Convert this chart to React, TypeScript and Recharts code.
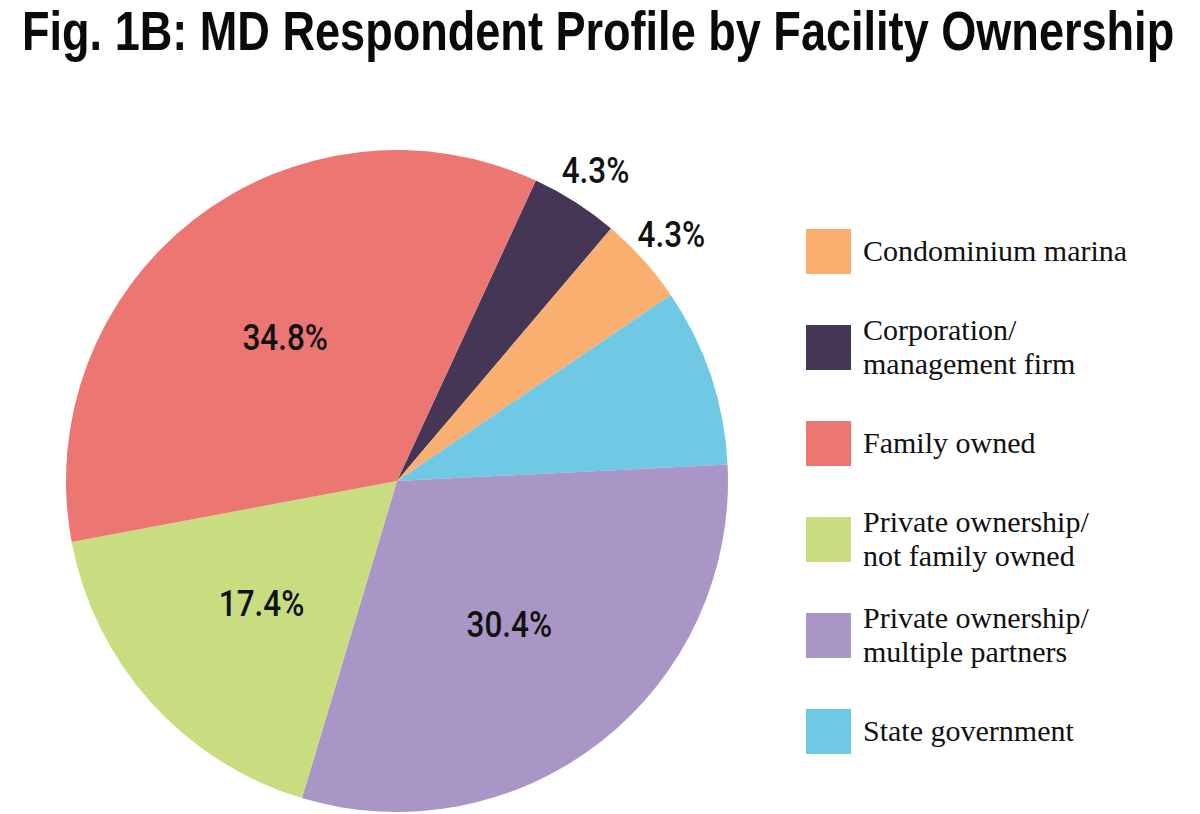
import { Cell, Pie, PieChart } from "recharts";

const title = "Fig. 1B: MD Respondent Profile by Facility Ownership";

// slice order as drawn, clockwise from the top
const sliceNames = [
  "Corporation/management firm",
  "Condominium marina",
  "State government",
  "Private ownership/multiple partners",
  "Private ownership/not family owned",
  "Family owned",
];
const sliceValues = [4.3, 4.3, 8.7, 30.4, 17.4, 34.8];
const sliceLabels = ["4.3%", "4.3%", "", "30.4%", "17.4%", "34.8%"];
const sliceColors = ["#453656", "#F8AF6F", "#6FC9E5", "#A996C6", "#C8DD80", "#EC7772"];

// legend order
const legendNames = [
  ["Condominium marina"],
  ["Corporation/", "management firm"],
  ["Family owned"],
  ["Private ownership/", "not family owned"],
  ["Private ownership/", "multiple partners"],
  ["State government"],
];
const legendColors = ["#F8AF6F", "#453656", "#EC7772", "#C8DD80", "#A996C6", "#6FC9E5"];

const pieData = sliceNames.map((name, i) => ({ name, value: sliceValues[i] }));

const RADIAN = Math.PI / 180;
const titleFont = "'Liberation Sans', Arial, sans-serif";
const labelFont = "Roboto, 'Liberation Sans', sans-serif";

function renderLabel(props: any) {
  const { cx, cy, midAngle, outerRadius, percent, index } = props;
  const text = sliceLabels[index];
  if (!text) return null;
  const r = percent < 0.06 ? outerRadius + 38 : outerRadius * 0.55;
  const x = cx + r * Math.cos(-midAngle * RADIAN);
  const y = cy + r * Math.sin(-midAngle * RADIAN);
  // squeeze the glyphs to get the condensed look of the original
  return (
    <text
      transform={`translate(${x},${y}) scale(0.85,1)`}
      textAnchor="middle"
      dominantBaseline="central"
      fontFamily={labelFont}
      fontWeight={500}
      fontSize={37}
      fill="#111"
    >
      {text}
    </text>
  );
}

export default function App() {
  return (
    <div style={{ position: "absolute", left: 0, top: 0, width: 1200, height: 814, background: "#fff", overflow: "hidden" }}>
      <div style={{ position: "absolute", left: 0, top: 0 }}>
        <PieChart width={1200} height={814} margin={{ top: 0, right: 0, bottom: 0, left: 0 }}>
          <Pie
            data={pieData}
            dataKey="value"
            nameKey="name"
            cx={397}
            cy={481}
            outerRadius={331}
            startAngle={65.2}
            endAngle={-294.8}
            stroke="none"
            label={renderLabel}
            labelLine={false}
            isAnimationActive={false}
          >
            {pieData.map((d, i) => (
              <Cell key={d.name} fill={sliceColors[i]} />
            ))}
          </Pie>
        </PieChart>
      </div>

      <div
        style={{
          position: "absolute",
          left: 22,
          top: 3,
          whiteSpace: "nowrap",
          fontFamily: titleFont,
          fontWeight: "bold",
          fontSize: 46,
          lineHeight: "46px",
          color: "#0a0a0a",
          transform: "scale(0.98, 1.217)",
          transformOrigin: "0 0",
        }}
      >
        {title}
      </div>

      <div
        style={{
          position: "absolute",
          left: 806,
          top: 203,
          display: "flex",
          flexDirection: "column",
          fontFamily: "'Liberation Serif', 'Times New Roman', serif",
          fontSize: 30,
          lineHeight: "34px",
          color: "#111",
        }}
      >
        {legendNames.map((lines, i) => (
          <div key={lines.join("")} style={{ height: 96, display: "flex", alignItems: "center" }}>
            <div style={{ width: 45, height: 45, background: legendColors[i], flex: "none" }} />
            <div style={{ marginLeft: 12 }}>
              {lines.map((l) => (
                <div key={l}>{l}</div>
              ))}
            </div>
          </div>
        ))}
      </div>
    </div>
  );
}
